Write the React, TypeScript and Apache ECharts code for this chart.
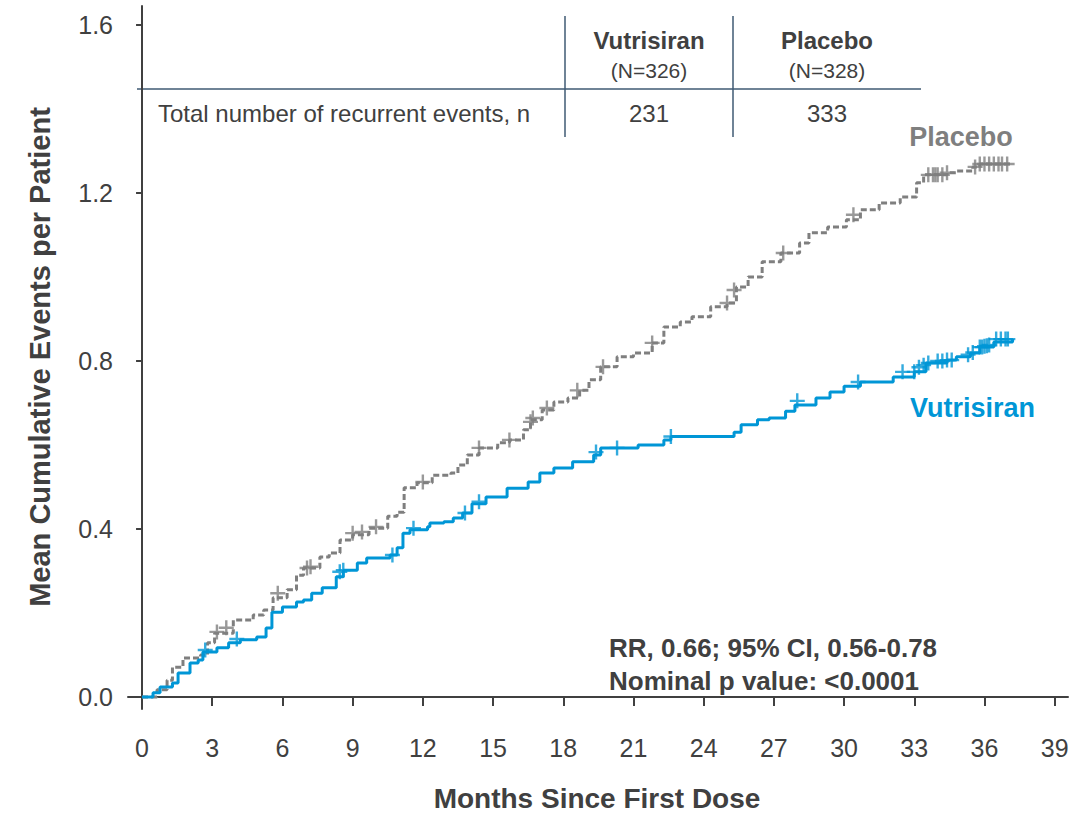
import React, { useEffect, useRef } from "react";
import * as echarts from "echarts";

const xTicks = [0, 3, 6, 9, 12, 15, 18, 21, 24, 27, 30, 33, 36, 39];
const yTicks = [0, 0.4, 0.8, 1.2, 1.6];

const vutX = [0, 0.47, 0.77, 1.3, 1.54, 2.05, 2.4, 2.6, 3.2, 3.7, 4.2, 4.9, 5.3, 5.55, 6.0, 6.6, 6.9, 7.25, 7.7, 8.3, 8.6, 9.2, 9.6, 10.6, 10.9, 11.15, 11.45, 12.2, 12.3, 12.9, 13.3, 13.7, 14.1, 14.7, 15.6, 16.5, 17.0, 17.6, 18.4, 19.3, 19.6, 21.2, 22.3, 22.6, 25.3, 25.6, 26.3, 26.8, 27.5, 27.9, 28.8, 29.4, 30.0, 30.7, 32.1, 33.0, 33.5, 34.4, 34.8, 35.4, 35.8, 36.4, 37.2];
const vutY = [0, 0.01, 0.024, 0.033, 0.057, 0.081, 0.088, 0.107, 0.117, 0.129, 0.136, 0.143, 0.164, 0.202, 0.214, 0.226, 0.231, 0.247, 0.26, 0.286, 0.302, 0.319, 0.331, 0.338, 0.355, 0.39, 0.398, 0.405, 0.414, 0.417, 0.426, 0.438, 0.46, 0.476, 0.497, 0.512, 0.533, 0.545, 0.56, 0.576, 0.593, 0.6, 0.612, 0.62, 0.63, 0.648, 0.66, 0.664, 0.68, 0.695, 0.712, 0.726, 0.74, 0.75, 0.762, 0.774, 0.795, 0.802, 0.81, 0.819, 0.833, 0.845, 0.852];

const plaX = [0, 0.64, 1.07, 1.3, 1.75, 2.5, 2.8, 3.1, 3.9, 4.75, 5.2, 5.6, 6.2, 6.6, 6.9, 7.6, 8.0, 8.46, 9.0, 9.7, 10.5, 10.9, 11.2, 11.75, 12.4, 13.2, 13.5, 13.9, 14.4, 15.2, 15.7, 16.3, 16.6, 17.1, 17.6, 18.2, 18.7, 19.1, 19.6, 20.3, 21.0, 21.8, 22.3, 23.0, 23.5, 24.3, 25.0, 25.4, 25.9, 26.5, 27.3, 28.1, 28.5, 29.3, 30.1, 30.7, 31.5, 32.4, 33.1, 33.4, 34.4, 34.8, 35.5, 35.8, 37.2];
const plaY = [0, 0.017, 0.04, 0.071, 0.093, 0.1, 0.129, 0.152, 0.183, 0.195, 0.207, 0.236, 0.255, 0.29, 0.307, 0.333, 0.343, 0.374, 0.386, 0.402, 0.43, 0.44, 0.498, 0.51, 0.528, 0.533, 0.552, 0.576, 0.593, 0.605, 0.612, 0.636, 0.66, 0.683, 0.702, 0.712, 0.73, 0.755, 0.786, 0.81, 0.819, 0.843, 0.881, 0.893, 0.905, 0.929, 0.938, 0.976, 1.0, 1.036, 1.057, 1.081, 1.105, 1.119, 1.136, 1.16, 1.176, 1.19, 1.224, 1.243, 1.248, 1.252, 1.262, 1.269, 1.269];

const vutCensorX = [2.7, 4.05, 8.45, 8.6, 10.7, 11.6, 13.8, 14.4, 19.4, 20.3, 22.6, 28.0, 30.6, 32.5, 33.0, 33.2, 33.4, 33.6, 34.0, 34.2, 34.4, 34.6, 35.3, 35.5, 35.8, 35.9, 36.0, 36.1, 36.2, 36.5, 36.7, 36.9, 37.0];
const vutCensorY = [0.112, 0.138, 0.298, 0.302, 0.338, 0.402, 0.438, 0.465, 0.583, 0.593, 0.62, 0.705, 0.75, 0.774, 0.774, 0.785, 0.79, 0.795, 0.8, 0.8, 0.802, 0.802, 0.815, 0.82, 0.833, 0.833, 0.835, 0.836, 0.838, 0.852, 0.852, 0.852, 0.852];

const plaCensorX = [3.2, 3.6, 5.8, 7.05, 7.2, 9.0, 9.4, 10.0, 12.0, 14.4, 15.7, 16.6, 16.7, 17.3, 18.6, 19.7, 21.8, 25.0, 25.3, 27.4, 30.4, 33.6, 33.8, 33.9, 34.0, 34.2, 34.4, 35.6, 35.8, 36.0, 36.2, 36.4, 36.6, 36.75, 36.97];
const plaCensorY = [0.155, 0.165, 0.247, 0.307, 0.31, 0.39, 0.393, 0.405, 0.512, 0.593, 0.612, 0.655, 0.664, 0.688, 0.73, 0.786, 0.843, 0.938, 0.969, 1.057, 1.148, 1.243, 1.243, 1.243, 1.243, 1.243, 1.248, 1.262, 1.269, 1.269, 1.269, 1.269, 1.269, 1.269, 1.269];

const BLUE = "#0096d6";
const GRAY = "#7f7f7f";
const DARK = "#404040";
const TABLE_LINE = "#3f5a73";
const FONT = "'Liberation Sans', Arial, sans-serif";
const PLUS = "path://M4.2,0H5.8V4.2H10V5.8H5.8V10H4.2V5.8H0V4.2H4.2Z";

const zip = (xs: number[], ys: number[]) => xs.map((x, i) => [x, ys[i]]);

export default function App() {
  const ref = useRef<HTMLDivElement>(null);
  useEffect(() => {
    document.body.style.margin = "0";
    if (!ref.current) return;
    const chart = echarts.init(ref.current, undefined, { renderer: "svg" });
    const txt = (text: string, x: number, y: number, size: number, opts: any = {}) => ({
      type: "text",
      x,
      y,
      style: {
        text,
        fontSize: size,
        fontFamily: FONT,
        fontWeight: opts.bold ? "bold" : "normal",
        fill: opts.color || DARK,
        align: opts.align || "center",
        verticalAlign: "middle",
      },
      rotation: opts.rotation || 0,
    });
    const ln = (x1: number, y1: number, x2: number, y2: number) => ({
      type: "line",
      shape: { x1, y1, x2, y2 },
      style: { stroke: TABLE_LINE, lineWidth: 1.5 },
    });
    chart.setOption({
      animation: false,
      grid: { left: 128, right: 16, top: 6, bottom: 105 },
      xAxis: {
        type: "value",
        min: -0.6,
        max: 39.57,
        splitLine: { show: false },
        axisLine: { lineStyle: { color: DARK, width: 2 } },
        axisTick: { customValues: xTicks, length: 9, lineStyle: { color: DARK, width: 2 } },
        axisLabel: { customValues: xTicks, fontSize: 25, color: DARK, fontFamily: FONT, margin: 26 },
      },
      yAxis: {
        type: "value",
        min: -0.0286,
        max: 1.645,
        splitLine: { show: false },
        axisLine: { show: true, lineStyle: { color: DARK, width: 2 } },
        axisTick: { show: true, customValues: yTicks, length: 6, lineStyle: { color: DARK, width: 2 } },
        axisLabel: {
          customValues: yTicks,
          fontSize: 25,
          color: DARK,
          fontFamily: FONT,
          margin: 15,
          formatter: (v: number) => v.toFixed(1),
        },
      },
      series: [
        {
          type: "line",
          step: "end",
          data: zip(plaX, plaY),
          showSymbol: false,
          lineStyle: { color: GRAY, width: 3, type: [6, 3] },
          z: 2,
        },
        {
          type: "line",
          step: "end",
          data: zip(vutX, vutY),
          showSymbol: false,
          lineStyle: { color: BLUE, width: 3 },
          z: 3,
        },
        {
          type: "scatter",
          data: zip(plaCensorX, plaCensorY),
          symbol: PLUS,
          symbolSize: 15,
          itemStyle: { color: GRAY },
          z: 2,
        },
        {
          type: "scatter",
          data: zip(vutCensorX, vutCensorY),
          symbol: PLUS,
          symbolSize: 15,
          itemStyle: { color: BLUE },
          z: 3,
        },
      ],
      graphic: [
        ln(565, 16, 565, 137),
        ln(733, 16, 733, 137),
        ln(137, 89, 921, 89),
        txt("Vutrisiran", 649, 40, 24, { bold: true }),
        txt("(N=326)", 649, 70, 21),
        txt("Placebo", 827, 40, 24, { bold: true }),
        txt("(N=328)", 827, 70, 21),
        txt("Total number of recurrent events, n", 158, 113, 24, { align: "left" }),
        txt("231", 649, 113, 24),
        txt("333", 827, 113, 24),
        txt("Placebo", 961, 137, 27, { bold: true, color: GRAY }),
        txt("Vutrisiran", 910, 408, 27, { bold: true, color: BLUE, align: "left" }),
        txt("RR, 0.66; 95% CI, 0.56-0.78", 609, 648, 26, { bold: true, align: "left" }),
        txt("Nominal p value: <0.0001", 609, 681, 26, { bold: true, align: "left" }),
        txt("Months Since First Dose", 597, 798, 28, { bold: true }),
        txt("Mean Cumulative Events per Patient", 40, 357, 29, { bold: true, rotation: Math.PI / 2 }),
      ],
    });
    return () => chart.dispose();
  }, []);
  return <div ref={ref} style={{ width: 1084, height: 814 }} />;
}
